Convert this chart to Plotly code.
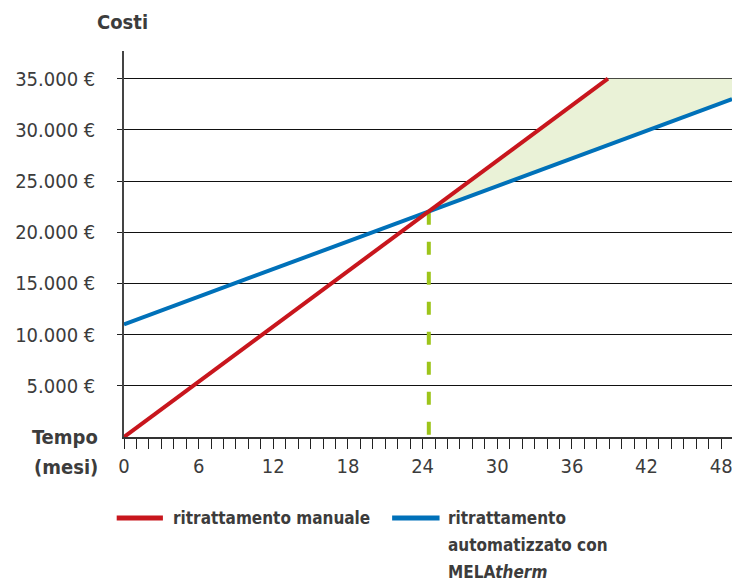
import plotly.graph_objects as go

# ---- data ----
manual_months = [0, 24.44, 38.9]
manual_costs = [0, 22000, 35000]
auto_months = [0, 24.44, 48.87]
auto_costs = [11000, 22000, 33000]
breakeven_month = 24.5
breakeven_cost = 22000
cap_cost = 35000

y_tick_vals = [5000, 10000, 15000, 20000, 25000, 30000, 35000]
y_tick_text = ["5.000 €", "10.000 €", "15.000 €", "20.000 €", "25.000 €", "30.000 €", "35.000 €"]
x_tick_vals = [0, 6, 12, 18, 24, 30, 36, 42, 48]
legend_manual = "ritrattamento manuale"
legend_auto_lines = ["ritrattamento", "automatizzato con", "MELA<i>therm</i>"]

RED = "#C8161D"
BLUE = "#0071B9"
GREEN = "#9DC41A"
FILL = "#EAF2D7"
TXT = "#3C3C3C"
FONT = "DejaVu Sans Condensed, DejaVu Sans, sans-serif"

fig = go.Figure()

# shaded saving area
fill_x = [manual_months[1], manual_months[2], auto_months[2], auto_months[2], auto_months[1]]
fill_y = [manual_costs[1], manual_costs[2], cap_cost, auto_costs[2], auto_costs[1]]
fig.add_trace(go.Scatter(x=fill_x, y=fill_y, fill="toself", fillcolor=FILL,
                         line=dict(width=0), mode="lines", hoverinfo="skip", showlegend=False))

# breakeven dashed line (drawn from top down)
fig.add_trace(go.Scatter(x=[breakeven_month, breakeven_month], y=[breakeven_cost, 0],
                         mode="lines", line=dict(color=GREEN, width=4, dash="13px,17px"),
                         showlegend=False, hoverinfo="skip"))

fig.add_trace(go.Scatter(x=auto_months, y=auto_costs, mode="lines",
                         line=dict(color=BLUE, width=4), showlegend=False))
fig.add_trace(go.Scatter(x=manual_months, y=manual_costs, mode="lines",
                         line=dict(color=RED, width=4), showlegend=False))

fig.update_layout(
    width=732, height=581,
    margin=dict(l=124, r=0, t=51, b=144),
    paper_bgcolor="white", plot_bgcolor="white",
    font=dict(family=FONT, color=TXT, size=20),
    xaxis=dict(range=[0, 48.87], tickvals=x_tick_vals, ticks="outside", ticklen=10,
               tickwidth=1.3, tickcolor="#222", showgrid=False, zeroline=False,
               showline=True, linecolor="#333", linewidth=2, automargin=False,
               ticklabeloverflow="allow",
               minor=dict(dtick=1, ticks="outside", ticklen=10, tickwidth=1.3, tickcolor="#222"),
               tickfont=dict(size=20, color=TXT)),
    yaxis=dict(range=[0, 37700], tickvals=y_tick_vals, ticktext=y_tick_text,
               ticks="outside", ticklen=5, tickcolor="#222", tickwidth=1.3,
               showgrid=True, gridcolor="#111", gridwidth=1.3, zeroline=False,
               showline=True, linecolor="#444", linewidth=1.5, automargin=False,
               ticklabelstandoff=18, tickfont=dict(size=20, color=TXT)),
    showlegend=False,
)

# titles
fig.add_annotation(text="<b>Costi</b>", xref="paper", yref="paper", x=-0.002, y=1.075,
                   xanchor="center", yanchor="middle", showarrow=False, font=dict(size=20))
fig.add_annotation(text="<b>Tempo</b>", xref="paper", yref="paper", x=-0.04, y=0,
                   xanchor="right", yanchor="middle", showarrow=False, font=dict(size=20))
fig.add_annotation(text="<b>(mesi)</b>", xref="paper", yref="paper", x=-0.04, y=-0.078,
                   xanchor="right", yanchor="middle", showarrow=False, font=dict(size=20))

# legend (drawn)
LEG_Y = -0.21
LEG_STEP = 0.07
fig.add_shape(type="line", xref="paper", yref="paper", x0=-0.012, x1=0.064,
              y0=LEG_Y, y1=LEG_Y, line=dict(color=RED, width=5))
fig.add_annotation(text="<b>" + legend_manual + "</b>", xref="paper", yref="paper",
                   x=0.077, y=LEG_Y, xanchor="left", yanchor="middle", showarrow=False,
                   font=dict(size=17))
fig.add_shape(type="line", xref="paper", yref="paper", x0=0.441, x1=0.519,
              y0=LEG_Y, y1=LEG_Y, line=dict(color=BLUE, width=5))
for i, line_text in enumerate(legend_auto_lines):
    fig.add_annotation(text="<b>" + line_text + "</b>", xref="paper", yref="paper",
                       x=0.529, y=LEG_Y - i * LEG_STEP, xanchor="left", yanchor="middle",
                       showarrow=False, font=dict(size=17))

fig.write_html("out.html", config={"displayModeBar": False},
               post_script="document.body.style.margin='0';document.body.style.overflow='hidden';")
